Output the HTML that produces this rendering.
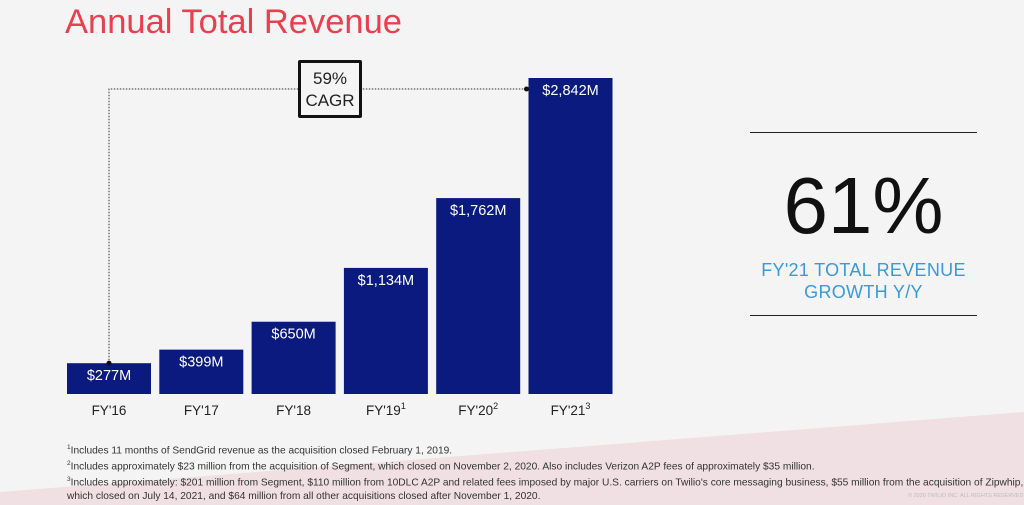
<!DOCTYPE html>
<html><head><meta charset="utf-8"><style>
body{margin:0;width:1024px;height:505px;overflow:hidden;background:#f4f4f4;font-family:"Liberation Sans",sans-serif;position:relative}
.abs{position:absolute}
.fn{position:absolute;left:67px;font-size:10.2px;color:#333;white-space:nowrap;line-height:14px}
.fn sup{font-size:6.5px}
</style></head><body>
<svg class="abs" style="left:0;top:0" width="1024" height="505"><polygon points="0,492 1024,412 1024,505 0,505" fill="#f0e0e3"/></svg>
<div class="abs" style="left:65px;top:3px;font-size:34.5px;color:#e8404f;font-weight:300">Annual Total Revenue</div>
<svg id="chart" class="abs" style="left:0;top:0" width="700" height="430"></svg>
<div class="abs" style="left:298px;top:60px;width:64px;height:58px;border:3px solid #111;border-radius:2px;text-align:center;font-size:17px;line-height:22px;color:#222;background:#f4f4f4;padding-top:5px;box-sizing:border-box">59%<br>CAGR</div>
<div class="abs" style="left:750px;top:132px;width:227px;height:1px;background:#222"></div>
<div class="abs" style="left:750px;top:164px;width:227px;text-align:center;font-size:80px;line-height:84px;color:#111;font-weight:300">61%</div>
<div class="abs" style="left:740px;top:259px;width:247px;text-align:center;font-size:18px;line-height:22px;color:#3a9ad9;letter-spacing:0.3px">FY'21 TOTAL REVENUE<br>GROWTH Y/Y</div>
<div class="abs" style="left:750px;top:315px;width:227px;height:1px;background:#222"></div>
<div class="fn" style="top:441px"><sup>1</sup>Includes 11 months of SendGrid revenue as the acquisition closed February 1, 2019.</div>
<div class="fn" style="top:457px"><sup>2</sup>Includes approximately $23 million from the acquisition of Segment, which closed on November 2, 2020. Also includes Verizon A2P fees of approximately $35 million.</div>
<div class="fn" style="top:473px"><sup>3</sup>Includes approximately: $201 million from Segment, $110 million from 10DLC A2P and related fees imposed by major U.S. carriers on Twilio's core messaging business, $55 million from the acquisition of Zipwhip,<br>which closed on July 14, 2021, and $64 million from all other acquisitions closed after November 1, 2020.</div>
<div class="abs" style="left:908px;top:493px;font-size:5.5px;color:#bbb;white-space:nowrap">© 2020 TWILIO INC. ALL RIGHTS RESERVED.</div>
<script>
const categories=["FY'16","FY'17","FY'18","FY'19","FY'20","FY'21"];
const sups=["","","","1","2","3"];
const values=[277,399,650,1134,1762,2842];
const labels=["$277M","$399M","$650M","$1,134M","$1,762M","$2,842M"];
const svg=document.getElementById('chart');const NS='http://www.w3.org/2000/svg';
const base=394,top0=78,maxV=2842;
const y=v=>base-v/maxV*(base-top0);
const x=i=>67+i*92.3;const bw=84;
function mk(t,a){const e=document.createElementNS(NS,t);for(const k in a)e.setAttribute(k,a[k]);svg.appendChild(e);return e;}
values.forEach((v,i)=>{
 const r=mk('rect',{x:x(i),y:y(v),width:bw,height:base-y(v),fill:'#0a1a7e'});
 
 
 const t=mk('text',{x:x(i)+bw/2,y:y(v)+17,'text-anchor':'middle','font-size':14.5,fill:'#fff','font-family':'Liberation Sans'});
 t.textContent=labels[i];
 
 
 const c=mk('text',{x:x(i)+bw/2,y:base+21,'text-anchor':'middle','font-size':13.5,fill:'#222','font-family':'Liberation Sans'});
 c.textContent=categories[i];
 if(sups[i]){const s=document.createElementNS(NS,'tspan');s.setAttribute('font-size',9);s.setAttribute('dy',-6);s.textContent=sups[i];c.appendChild(s);}
 
 
});
const x0=x(0)+bw/2,yl=89,x5=x(5)-2;
const p=mk('polyline',{points:`${x0},${y(values[0])} ${x0},${yl} ${x5},${yl}`,fill:'none',stroke:'#333','stroke-width':1,'stroke-dasharray':'1.5,1.5'});


mk('circle',{cx:x0,cy:y(values[0]),r:2.5,fill:'#111'});
mk('circle',{cx:x5,cy:yl,r:2.5,fill:'#111'});
</script>
</body></html>
